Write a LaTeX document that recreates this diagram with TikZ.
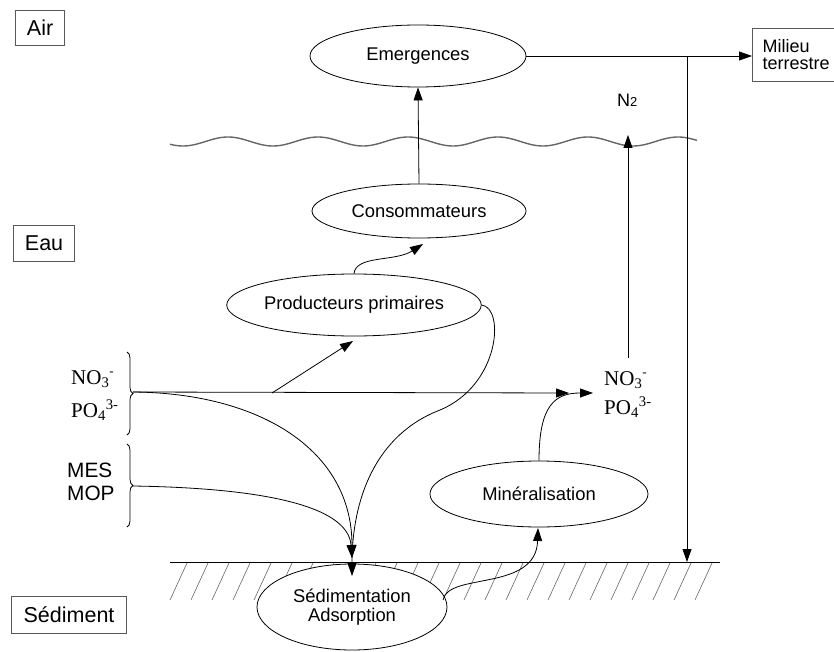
\documentclass[tikz,border=0pt]{standalone}
\usepackage{fontspec}
\setmainfont{Liberation Sans}
\newfontfamily\chemfont{Liberation Serif}
\usetikzlibrary{arrows.meta,decorations.pathreplacing,shapes.geometric}
\begin{document}
\begin{tikzpicture}[x=1pt,y=-1pt,
  ell/.style={draw, ellipse, fill=white, inner sep=0pt, line width=0.8pt,
              font=\fontsize{18.4}{19.5}\selectfont, align=center},
  zone/.style={draw=black!65, line width=1.1pt, inner sep=0pt,
               font=\fontsize{21.5}{24}\selectfont},
  chem/.style={anchor=base west, inner sep=0pt, font=\chemfont\fontsize{21}{21}\selectfont},
  lbl/.style={anchor=base west, inner sep=0pt, font=\fontsize{20.8}{22}\selectfont},
  con/.style={line width=0.8pt},
  arr/.style={con, -{Triangle[length=13pt,width=9pt]}},
  hatchline/.style={line width=0.6pt, black!60},
  brc/.style={line width=0.8pt, decorate, decoration={brace, amplitude=6pt}},
]
\useasboundingbox (0,0) rectangle (834,652);

% zone boxes
\node[zone, minimum width=49, minimum height=35, anchor=north west] (air) at (15,10) {Air};
\node[zone, minimum width=61, minimum height=36, anchor=north west] (eau) at (13,225) {Eau};
\node[zone, minimum width=115, minimum height=37, anchor=north west] (sed) at (11,596) {Sédiment};
\node[zone, anchor=north west, minimum height=53, text width=92, inner xsep=10pt,
      align=left, font=\fontsize{18}{17}\selectfont] (milieu) at (752,28) {Milieu\\terrestre};

% water surface
\draw[line width=1.4pt, black!60] plot[domain=170:697, samples=220]
  (\x, {141.5 - 4.5*cos((\x-228)/90*360)});

% sediment surface and hatching
\coordinate (sL) at (170,562);
\coordinate (sR) at (720,562);
\foreach \h in {170,191,...,700} {
  \draw[hatchline] (\h,600) -- (\h+17,563);
}
\draw[con] (sL) -- (sR);

% ellipses
\node[ell, minimum width=216, minimum height=62] (emerg) at (418,56) {Emergences};
\node[ell, minimum width=214, minimum height=54] (cons) at (419,211) {Consommateurs};
\node[ell, minimum width=232, minimum height=62] (prod) at (354,305) {Producteurs primaires};
\node[ell, minimum width=218, minimum height=66] (miner) at (539,494) {Minéralisation};
\node[ell, minimum width=190, minimum height=86] (sedim) at (352,607) {Sédimentation\\Adsorption};

% chemical labels
\node[chem] (no3l) at (71,384) {NO\textsubscript{3}\raisebox{9pt}{\fontsize{13}{13}\selectfont -}};
\node[chem] (po4l) at (71,417) {PO\textsubscript{4}\textsuperscript{3-}};
\node[lbl] (mes) at (67,477) {MES};
\node[lbl] (mop) at (67,500) {MOP};
\node[chem] (no3r) at (604,385) {NO\textsubscript{3}\raisebox{9pt}{\fontsize{13}{13}\selectfont -}};
\node[chem] (po4r) at (604,414) {PO\textsubscript{4}\textsuperscript{3-}};
\node[anchor=base west, inner sep=0pt, font=\fontsize{18}{18}\selectfont] (n2) at (617,107)
  {N{\fontsize{13}{13}\selectfont 2}};

% braces
\draw[brc] (127,352) -- (127,435);
\draw[brc] (127,444) -- (127,527);
\coordinate (b1) at (133,392);
\coordinate (b2) at (133,486);

% coordinates
\coordinate (hin) at (569,393);
\coordinate (hb) at (272,393);
\coordinate (pin) at (353,341);
\coordinate (cin) at (423,244);
\coordinate (rin) at (593,393);
\coordinate (v1) at (628,358);
\coordinate (v2) at (628,135);
\coordinate (j1) at (687,56);
\coordinate (j2) at (687,562);
\coordinate (t1) at (352,558);
\coordinate (t2) at (352,576);
\coordinate (sedout) at (443,600);
\coordinate (minin) at (538,528);

% connectors
\draw[arr] (cons.north) -- (emerg.south);
\draw[arr] (emerg.east) -- (emerg.east -| milieu.west);
\draw[arr] (j1) -- (j2);
\draw[arr] (v1) -- (v2);
\draw[arr] (b1) -- (hin);
\draw[arr] (hb) -- (pin);
\draw[arr] (prod.north) .. controls (356,255) and (395,262) .. (cin);
\draw[arr] (b1) .. controls (260,393) and (352,450) .. (t1);
\draw[arr] (b2) .. controls (260,488) and (348,505) .. (t1);
\draw[arr] (prod.east) .. controls (505,308) and (500,385) .. (440,410)
           .. controls (375,435) and (352,500) .. (t2);
\draw[arr] (sedout) .. controls (448,572) and (536,592) .. (minin);
\draw[arr] (miner.north) .. controls (539,405) and (555,393) .. (rin);
\end{tikzpicture}
\end{document}
